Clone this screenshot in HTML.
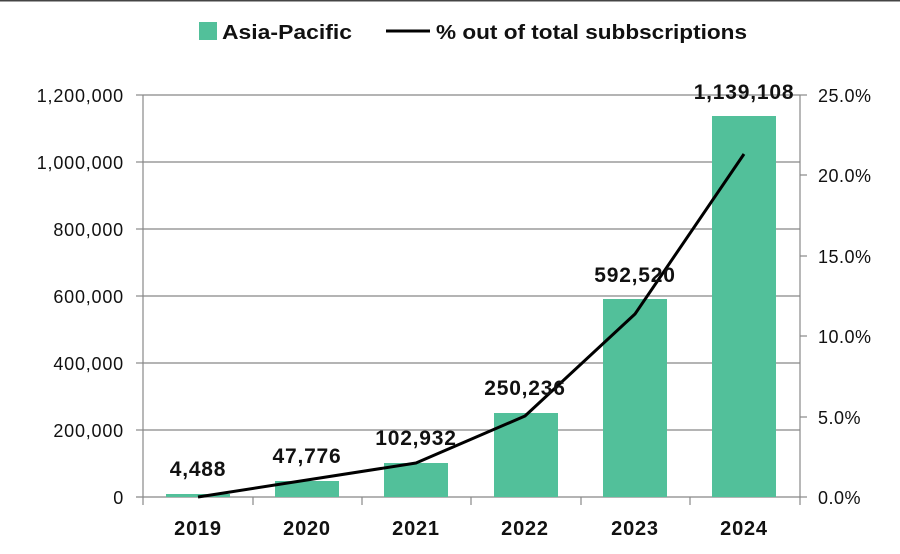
<!DOCTYPE html>
<html><head><meta charset="utf-8"><style>
body{margin:0;background:#fff;}
svg text{font-family:"Liberation Sans",sans-serif;fill:#111;}
</style></head><body>
<svg width="900" height="549" viewBox="0 0 900 549" xmlns="http://www.w3.org/2000/svg">
<rect width="900" height="549" fill="#fff"/>
<line x1="0" y1="0.5" x2="900" y2="0.5" stroke="#444" stroke-width="2"/>
<!-- legend -->
<rect x="199" y="22" width="18" height="18" fill="#52c09a"/>
<text x="222" y="39" font-size="20" font-weight="bold" textLength="130" lengthAdjust="spacingAndGlyphs">Asia-Pacific</text>
<line x1="386" y1="31" x2="430" y2="31" stroke="#000" stroke-width="3"/>
<text x="436" y="39" font-size="20" font-weight="bold" textLength="311" lengthAdjust="spacingAndGlyphs">% out of total subbscriptions</text>
<!-- gridlines -->
<g stroke="#888" stroke-width="1.2">
<line x1="143" y1="95" x2="800" y2="95"/>
<line x1="143" y1="162" x2="800" y2="162"/>
<line x1="143" y1="229" x2="800" y2="229"/>
<line x1="143" y1="296" x2="800" y2="296"/>
<line x1="143" y1="363" x2="800" y2="363"/>
<line x1="143" y1="430" x2="800" y2="430"/>
<line x1="136" y1="497" x2="800" y2="497"/>
<line x1="143" y1="95" x2="143" y2="505"/>
<line x1="800" y1="95" x2="800" y2="497"/>
<line x1="253" y1="497" x2="253" y2="505"/>
<line x1="362" y1="497" x2="362" y2="505"/>
<line x1="471" y1="497" x2="471" y2="505"/>
<line x1="581" y1="497" x2="581" y2="505"/>
<line x1="690" y1="497" x2="690" y2="505"/>
<line x1="800" y1="497" x2="800" y2="505"/>
<line x1="800" y1="95" x2="807" y2="95"/>
<line x1="800" y1="175" x2="807" y2="175"/>
<line x1="800" y1="256" x2="807" y2="256"/>
<line x1="800" y1="336" x2="807" y2="336"/>
<line x1="800" y1="417" x2="807" y2="417"/>
<line x1="800" y1="497" x2="807" y2="497"/>
<line x1="136" y1="95" x2="143" y2="95"/>
<line x1="136" y1="162" x2="143" y2="162"/>
<line x1="136" y1="229" x2="143" y2="229"/>
<line x1="136" y1="296" x2="143" y2="296"/>
<line x1="136" y1="363" x2="143" y2="363"/>
<line x1="136" y1="430" x2="143" y2="430"/>
</g>
<!-- left labels -->
<g font-size="18" text-anchor="end" letter-spacing="0.8">
<text x="124" y="102">1,200,000</text>
<text x="124" y="169">1,000,000</text>
<text x="124" y="236">800,000</text>
<text x="124" y="303">600,000</text>
<text x="124" y="370">400,000</text>
<text x="124" y="437">200,000</text>
<text x="124" y="504">0</text>
</g>
<g font-size="18" letter-spacing="0.5">
<text x="818" y="102">25.0%</text>
<text x="818" y="182">20.0%</text>
<text x="818" y="263">15.0%</text>
<text x="818" y="343">10.0%</text>
<text x="818" y="424">5.0%</text>
<text x="818" y="504">0.0%</text>
</g>
<!-- bars -->
<g fill="#52c09a">
<rect x="166" y="494" width="64" height="3"/>
<rect x="275" y="481" width="64" height="16"/>
<rect x="384" y="463" width="64" height="34"/>
<rect x="494" y="413" width="64" height="84"/>
<rect x="603" y="299" width="64" height="198"/>
<rect x="712" y="116" width="64" height="381"/>
</g>
<!-- line -->
<polyline points="198,497 307,480 416,463 525,416 635,314 744,154" fill="none" stroke="#000" stroke-width="3" stroke-linejoin="round"/>
<!-- value labels -->
<g font-size="21" font-weight="bold" text-anchor="middle" letter-spacing="0.8">
<text x="198" y="476">4,488</text>
<text x="307" y="463">47,776</text>
<text x="416" y="445">102,932</text>
<text x="525" y="395">250,236</text>
<text x="635" y="282">592,520</text>
<text x="744" y="99">1,139,108</text>
</g>
<g font-size="20" font-weight="bold" text-anchor="middle" letter-spacing="0.8">
<text x="198" y="535">2019</text>
<text x="307" y="535">2020</text>
<text x="416" y="535">2021</text>
<text x="525" y="535">2022</text>
<text x="635" y="535">2023</text>
<text x="744" y="535">2024</text>
</g>
</svg>
</body></html>
